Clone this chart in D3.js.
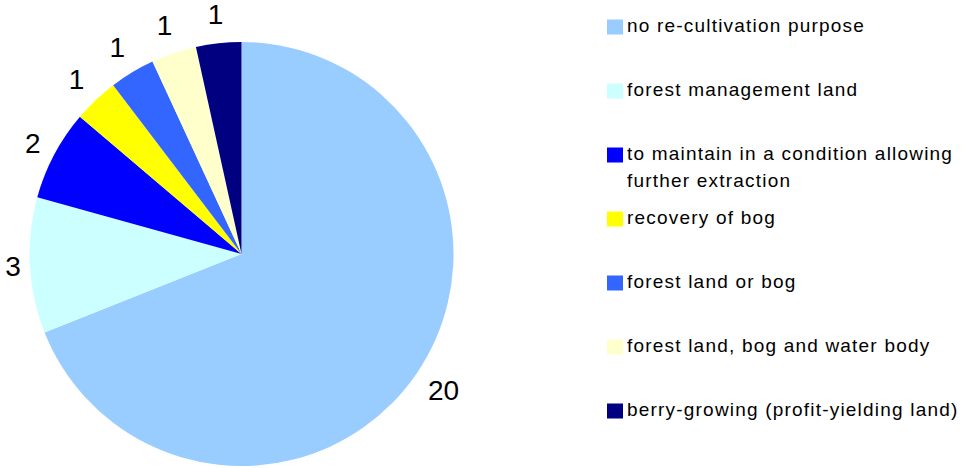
<!DOCTYPE html>
<html>
<head>
<meta charset="utf-8">
<script src="https://cdn.jsdelivr.net/npm/d3@7"></script>
<style>
  html, body { margin: 0; padding: 0; background: #fff; }
  svg { display: block; font-family: "Liberation Sans", Arial, sans-serif; }
</style>
</head>
<body>
<svg id="chart" width="963" height="468"></svg>
<script>
// Re-cultivation purposes of extraction sites (number of sites)
const categories = [
  "no re-cultivation purpose",
  "forest management land",
  "to maintain in a condition allowing further extraction",
  "recovery of bog",
  "forest land or bog",
  "forest land, bog and water body",
  "berry-growing (profit-yielding land)"
];
const values = [20, 3, 2, 1, 1, 1, 1];
const colors = ["#99CCFF", "#CCFFFF", "#0000FF", "#FFFF00", "#3366FF", "#FFFFCC", "#000080"];

const svg = d3.select("#chart");
const cx = 241.5, cy = 254, radius = 212;

const color = d3.scaleOrdinal().domain(categories).range(colors);

const pie = d3.pie()
  .value(d => d.value)
  .sort(null)
  .startAngle(0)
  .endAngle(2 * Math.PI);

const data = categories.map((c, i) => ({ name: c, value: values[i] }));
const arcs = pie(data);

const arc = d3.arc().innerRadius(0).outerRadius(radius);

const g = svg.append("g").attr("transform", `translate(${cx},${cy})`);

g.selectAll("path.slice")
  .data(arcs)
  .join("path")
  .attr("class", "slice")
  .attr("d", arc)
  .attr("fill", d => color(d.data.name));

// value labels placed just outside the rim, pushed out by their box size
const labelSize = 28;
g.selectAll("text.val")
  .data(arcs)
  .join("text")
  .attr("class", "val")
  .attr("font-size", labelSize)
  .attr("fill", "#000")
  .attr("text-anchor", "middle")
  .attr("dominant-baseline", "central")
  .attr("transform", d => {
    const a = (d.startAngle + d.endAngle) / 2;
    const s = Math.sin(a), c = -Math.cos(a);
    const txt = String(d.data.value);
    const hw = txt.length * labelSize * 0.278;
    const hh = 20;
    const dist = radius + 8 + Math.abs(s) * hw + Math.abs(c) * hh;
    return `translate(${s * dist},${c * dist})`;
  })
  .text(d => d.data.value);

// legend
const legendX = 607, legendTop = 27, rowStep = 64, sw = 15;
const textX = 627, fontSize = 19, lineH = 26.7, maxW = 345;

const legend = svg.append("g");
categories.forEach((name, i) => {
  const yc = legendTop + i * rowStep;
  legend.append("rect")
    .attr("x", legendX)
    .attr("y", yc - sw / 2)
    .attr("width", sw + 1)
    .attr("height", sw)
    .attr("fill", color(name));

  const t = legend.append("text")
    .attr("x", textX)
    .attr("y", yc + 5)
    .attr("font-size", fontSize)
    .attr("letter-spacing", "1.2px")
    .attr("fill", "#000");

  // simple word wrap
  const words = name.split(" ");
  let line = [];
  let tspan = t.append("tspan").attr("x", textX).attr("dy", 0);
  words.forEach(w => {
    line.push(w);
    tspan.text(line.join(" "));
    if (tspan.node().getComputedTextLength() > maxW && line.length > 1) {
      line.pop();
      tspan.text(line.join(" "));
      line = [w];
      tspan = t.append("tspan").attr("x", textX).attr("dy", lineH).text(w);
    }
  });
});
</script>
</body>
</html>
